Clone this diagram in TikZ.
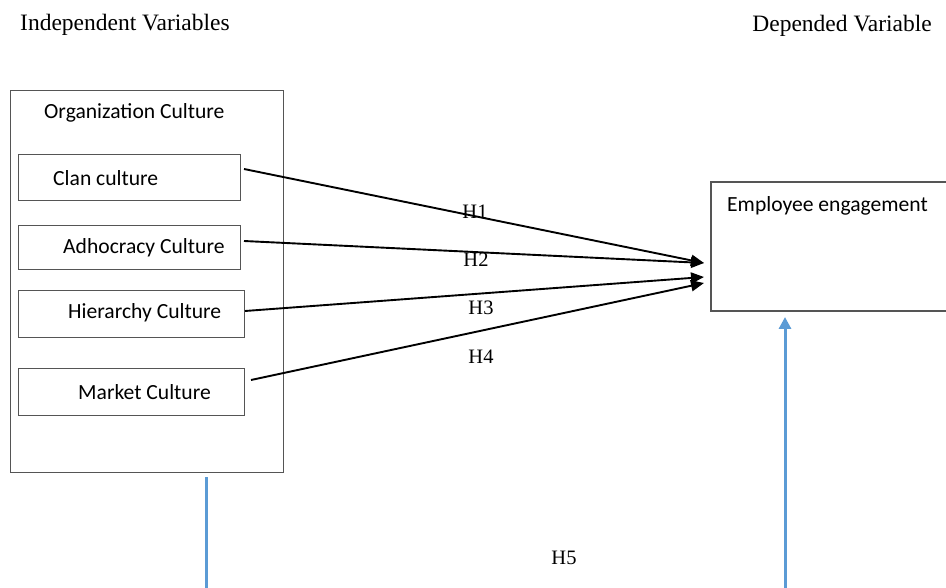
\documentclass[tikz,border=0pt]{standalone}
\usepackage{fontspec}
\setmainfont{Liberation Serif}
\newfontfamily\calfont{Carlito}
\usetikzlibrary{arrows.meta}
\definecolor{boxgray}{HTML}{555555}
\definecolor{linkblue}{HTML}{5B9BD5}
\tikzset{
  boxnode/.style={draw=boxgray, line width=1.2pt, inner sep=0pt, anchor=north west},
  calibri/.style={font=\calfont\fontsize{21.6}{24}\selectfont, inner sep=0pt, anchor=west, yshift=-2pt},
  times/.style={font=\fontsize{20.5}{22}\selectfont, inner sep=0pt, yshift=-1.5pt},
  header/.style={font=\fontsize{23.5}{26}\selectfont, inner sep=0pt, yshift=-2pt},
  harrow/.style={line width=1.9pt, -{Triangle[length=13pt,width=11pt]}},
  blueline/.style={draw=linkblue, line width=3pt},
}
\begin{document}
\begin{tikzpicture}[x=1pt,y=-1pt]
\useasboundingbox (0,0) rectangle (946,588);
% headers
\node[header, anchor=west] (hind) at (20,23) {Independent Variables};
\node[header, anchor=east] (hdep) at (932,24) {Depended Variable};
% outer box
\node[boxnode, minimum width=273pt, minimum height=382pt] (org) at (10,90) {};
\node[calibri] (orgt) at (44,111) {Organization Culture};
% inner boxes
\node[boxnode, minimum width=222pt, minimum height=46pt] (clan) at (18,154) {};
\node[calibri] (clant) at (53,176) {Clan culture};
\node[boxnode, minimum width=222pt, minimum height=44pt] (adho) at (18,225) {};
\node[calibri] (adhot) at (63,246) {Adhocracy Culture};
\node[boxnode, minimum width=226pt, minimum height=47pt] (hier) at (18,290) {};
\node[calibri] (hiert) at (68,311) {Hierarchy Culture};
\node[boxnode, minimum width=226pt, minimum height=47pt] (mark) at (18,368) {};
\node[calibri] (markt) at (78,390) {Market Culture};
% employee engagement box (runs off the right edge)
\coordinate (eetr) at (946,182);
\coordinate (eebr) at (946,311);
\draw[boxgray, line width=1.2pt] (eetr) -- (711,182) -- (711,311) -- (eebr);
\node[calibri] (eet) at (727,204) {Employee engagement};
% arrow endpoints
\coordinate (s1) at (244,169);
\coordinate (s2) at (244,241);
\coordinate (s3) at (245,311);
\coordinate (s4) at (251,380);
\coordinate (t12) at (704,263);
\coordinate (t3) at (704,277);
\coordinate (t4) at (704,283);
\draw[harrow] (s1) -- (t12);
\draw[harrow] (s2) -- (t12);
\draw[harrow] (s3) -- (t3);
\draw[harrow] (s4) -- (t4);
\node[times] (h1) at (475,210) {H1};
\node[times] (h2) at (476,258) {H2};
\node[times] (h3) at (481,306) {H3};
\node[times] (h4) at (481,355) {H4};
\node[times] (h5) at (564,556) {H5};
% blue links
\coordinate (bl1) at (206,477);
\coordinate (bl2) at (206,588);
\coordinate (br1) at (785,588);
\coordinate (br2) at (785,317);
\draw[blueline] (bl1) -- (bl2);
\draw[blueline, -{Triangle[length=12pt,width=12pt]}] (br1) -- (br2);
\end{tikzpicture}
\end{document}
